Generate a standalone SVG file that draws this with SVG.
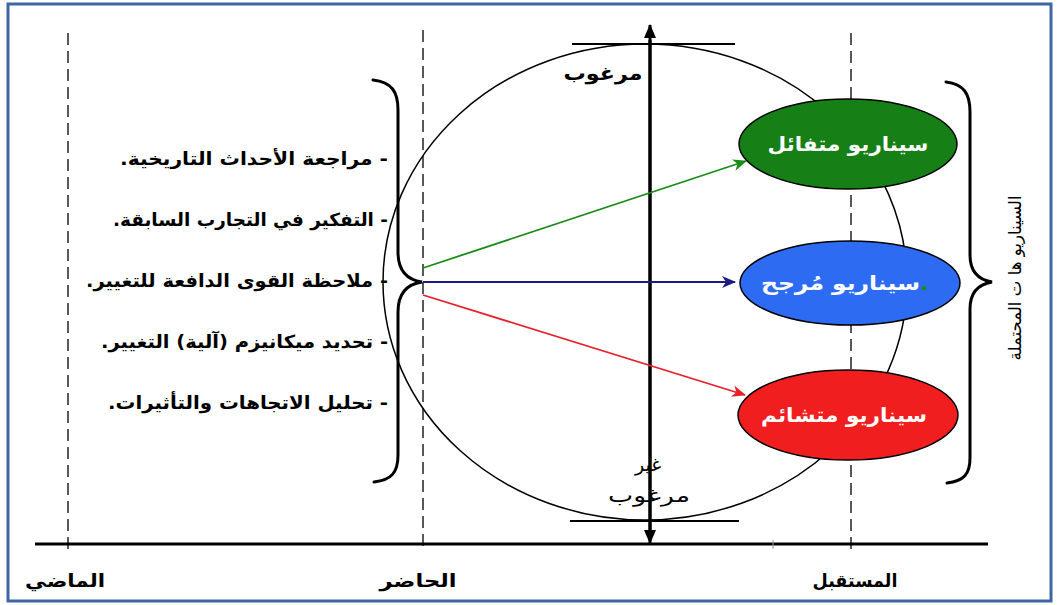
<svg xmlns="http://www.w3.org/2000/svg" width="1059" height="605" viewBox="0 0 1059 605">
<style>
.ar{font-family:"DejaVu Sans","Noto Sans",sans-serif;direction:rtl;unicode-bidi:embed}
.list{font-size:18px;font-weight:bold;fill:#000;text-anchor:start}
.lbl{font-size:18px;font-weight:bold;fill:#000;text-anchor:middle}
.node{font-size:20px;font-weight:bold;fill:#fff;text-anchor:middle}
.dash{stroke:#000;stroke-width:1.3;stroke-dasharray:12 6;fill:none}
.brace{stroke:#000;stroke-width:3;fill:none;stroke-linecap:round}
</style>
<defs>
<marker id="ahG" markerWidth="14" markerHeight="12" refX="13" refY="6" orient="auto" markerUnits="userSpaceOnUse"><path d="M0,0 L14,6 L0,12 L4,6 Z" fill="#1a8c1a"/></marker>
<marker id="ahB" markerWidth="14" markerHeight="12" refX="13" refY="6" orient="auto" markerUnits="userSpaceOnUse"><path d="M0,0 L14,6 L0,12 L4,6 Z" fill="#1c1c80"/></marker>
<marker id="ahR" markerWidth="14" markerHeight="12" refX="13" refY="6" orient="auto" markerUnits="userSpaceOnUse"><path d="M0,0 L14,6 L0,12 L4,6 Z" fill="#e8202a"/></marker>
<marker id="ahK" markerWidth="14" markerHeight="14" refX="13" refY="7" orient="auto" markerUnits="userSpaceOnUse"><path d="M0,1 L14,7 L0,13 Z" fill="#000"/></marker>
</defs>
<rect x="0" y="0" width="1059" height="605" fill="#fff"/>
<rect x="8" y="4" width="1043" height="597" fill="none" stroke="#3d66a3" stroke-width="3"/>

<g id="background">
<ellipse cx="645" cy="282" rx="262" ry="238" fill="none" stroke="#000" stroke-width="1.5"/>
<line class="dash" x1="68" y1="33" x2="68" y2="552"/>
<line class="dash" x1="423" y1="30" x2="423" y2="552"/>
<line class="dash" x1="851" y1="33" x2="851" y2="552"/>
<line x1="35" y1="544" x2="988" y2="544" stroke="#000" stroke-width="3"/>
<line x1="773" y1="540" x2="773" y2="549" stroke="#999" stroke-width="1"/>
<line x1="572" y1="44" x2="735" y2="44" stroke="#000" stroke-width="2"/>
<line x1="570" y1="521" x2="739" y2="521" stroke="#000" stroke-width="2"/>
</g>

<g id="connectors">
<line x1="650" y1="536" x2="650" y2="25" stroke="#000" stroke-width="3" marker-end="url(#ahK)"/>
<line x1="650" y1="40" x2="650" y2="543" stroke="#000" stroke-width="3" marker-end="url(#ahK)"/>
<line x1="423" y1="268" x2="746" y2="161" stroke="#1a8c1a" stroke-width="1.8" marker-end="url(#ahG)"/>
<line x1="423" y1="282" x2="735" y2="282" stroke="#1c1c80" stroke-width="1.8" marker-end="url(#ahB)"/>
<line x1="423" y1="295" x2="745" y2="395" stroke="#e8202a" stroke-width="1.8" marker-end="url(#ahR)"/>
</g>

<g id="axis-labels">
<text class="ar" x="603" y="80" textLength="79" lengthAdjust="spacingAndGlyphs" style="font-size:19px;font-weight:bold;text-anchor:middle">مرغوب</text>
<text class="ar" x="648" y="471" style="font-size:19px;text-anchor:middle">غير</text>
<text class="ar" x="649" y="502" textLength="82" lengthAdjust="spacingAndGlyphs" style="font-size:19px;text-anchor:middle">مرغوب</text>
</g>

<g id="brace-left">
<path class="brace" d="M373,80 C392,82 398,92 398,110 L398,252 C398,272 408,280 422,282 C408,284 398,292 398,312 L398,455 C398,472 392,480 374,482"/>
</g>

<g id="list">
<text class="ar list" x="388" y="165" textLength="268" lengthAdjust="spacingAndGlyphs">- مراجعة الأحداث التاريخية.</text>
<text class="ar list" x="388" y="226" textLength="275" lengthAdjust="spacingAndGlyphs">- التفكير في التجارب السابقة.</text>
<text class="ar list" x="388" y="287" textLength="302" lengthAdjust="spacingAndGlyphs">- ملاحظة  القوى الدافعة للتغيير.</text>
<text class="ar list" x="388" y="348" textLength="287" lengthAdjust="spacingAndGlyphs">- تحديد ميكانيزم (آلية) التغيير.</text>
<text class="ar list" x="388" y="409" textLength="280" lengthAdjust="spacingAndGlyphs">- تحليل الاتجاهات والتأثيرات.</text>
</g>

<g id="node-optimistic">
<ellipse cx="848" cy="144" rx="109" ry="45" fill="#167f16" stroke="#000" stroke-width="1.5"/>
<text class="ar node" x="848" y="151" textLength="161" lengthAdjust="spacingAndGlyphs">سيناريو متفائل</text>
</g>
<g id="node-probable">
<ellipse cx="850" cy="283" rx="110" ry="42" fill="#2d6cf2" stroke="#000" stroke-width="1.5"/>
<text class="ar node" x="845" y="290" textLength="168" lengthAdjust="spacingAndGlyphs"><tspan fill="#1a8c1a">.</tspan>سيناريو مُرجح</text>
</g>
<g id="node-pessimistic">
<ellipse cx="848" cy="415" rx="110" ry="45" fill="#f01e1e" stroke="#000" stroke-width="1.5"/>
<text class="ar node" x="844" y="422" textLength="166" lengthAdjust="spacingAndGlyphs">سيناريو متشائم</text>
</g>

<g id="brace-right">
<path class="brace" d="M946,82 C964,84 970,94 970,112 L970,255 C970,273 980,280 992,282 C980,284 970,291 970,309 L970,458 C970,474 964,481 947,483"/>
<text class="ar" x="1016" y="278" transform="rotate(-90 1016 278)" textLength="165" lengthAdjust="spacingAndGlyphs" style="font-size:17px;text-anchor:middle;dominant-baseline:middle">السيناريو ها ت المحتملة</text>
</g>

<g id="time-labels">
<text class="ar lbl" x="65" y="587" textLength="80" lengthAdjust="spacingAndGlyphs">الماضي</text>
<text class="ar lbl" x="418" y="587" textLength="77" lengthAdjust="spacingAndGlyphs">الحاضر</text>
<text class="ar lbl" x="855" y="587" textLength="85" lengthAdjust="spacingAndGlyphs">المستقبل</text>
</g>
</svg>
